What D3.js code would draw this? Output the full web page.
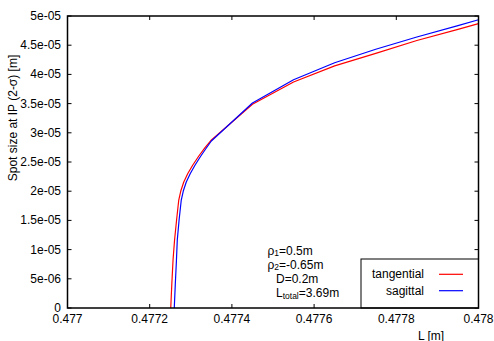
<!DOCTYPE html>
<html><head><meta charset="utf-8">
<script src="https://cdn.jsdelivr.net/npm/d3@7"></script>
<style>
html,body{margin:0;padding:0;background:#fff;}
text{font-family:"Liberation Sans",Arial,Helvetica,sans-serif;fill:#000;}
</style></head>
<body>
<svg id="chart" width="494" height="341"></svg>
<script>
// ---- data ----
const xTicks = [0.477, 0.4772, 0.4774, 0.4776, 0.4778, 0.478];
const xTickLabels = ["0.477", "0.4772", "0.4774", "0.4776", "0.4778", "0.478"];
const yTicks = [0, 5e-6, 1e-5, 1.5e-5, 2e-5, 2.5e-5, 3e-5, 3.5e-5, 4e-5, 4.5e-5, 5e-5];
const yTickLabels = ["0", "5e-06", "1e-05", "1.5e-05", "2e-05", "2.5e-05", "3e-05", "3.5e-05", "4e-05", "4.5e-05", "5e-05"];

const seriesNames = ["tangential", "sagittal"];
const seriesColors = ["#ff0000", "#0000ff"];

const tangentialL = [0.4772512, 0.4772537, 0.4772568, 0.4772605, 0.4772654, 0.4772707, 0.4772756, 0.4772829, 0.4772927, 0.4773049, 0.4773195, 0.4773341, 0.4773488, 0.47745, 0.47755, 0.47765, 0.47775, 0.47785, 0.47795, 0.478];
const tangentialV = [0, 3.94e-6, 8.22e-6, 1.164e-5, 1.507e-5, 1.849e-5, 2.003e-5, 2.158e-5, 2.303e-5, 2.449e-5, 2.603e-5, 2.740e-5, 2.868e-5, 3.488e-5, 3.870e-5, 4.145e-5, 4.360e-5, 4.580e-5, 4.770e-5, 4.870e-5];

const sagittalL = [0.4772598, 0.4772622, 0.4772651, 0.4772671, 0.4772715, 0.4772768, 0.4772817, 0.4772890, 0.4772988, 0.4773105, 0.4773244, 0.4773378, 0.4773500, 0.47745, 0.47755, 0.47765, 0.47775, 0.47785, 0.47795, 0.478];
const sagittalV = [0, 3.94e-6, 8.22e-6, 1.164e-5, 1.507e-5, 1.849e-5, 2.003e-5, 2.158e-5, 2.303e-5, 2.449e-5, 2.603e-5, 2.740e-5, 2.860e-5, 3.510e-5, 3.909e-5, 4.200e-5, 4.430e-5, 4.640e-5, 4.835e-5, 4.935e-5];

const xLabel = "L [m]";
const yLabel = "Spot size at IP (2-σ) [m]";

// ---- drawing ----
const svg = d3.select("#chart");
const L = 67.5, R = 478.5, T = 16, B = 308;
const x = d3.scaleLinear().domain([0.477, 0.478]).range([L, R]);
const y = d3.scaleLinear().domain([0, 5e-5]).range([B, T]);
const fs = 12;

// ticks (inward) on all four sides
const tk = 4;
const tg = svg.append("g").attr("stroke", "#000").attr("stroke-width", 1);
xTicks.forEach(v => {
  const px = x(v);
  tg.append("line").attr("x1", px).attr("x2", px).attr("y1", B).attr("y2", B - tk);
  tg.append("line").attr("x1", px).attr("x2", px).attr("y1", T).attr("y2", T + tk);
});
yTicks.forEach(v => {
  const py = y(v);
  tg.append("line").attr("x1", L).attr("x2", L + tk).attr("y1", py).attr("y2", py);
  tg.append("line").attr("x1", R).attr("x2", R - tk).attr("y1", py).attr("y2", py);
});

// tick labels
svg.append("g").selectAll("text").data(xTicks).join("text")
  .attr("x", d => x(d)).attr("y", 323)
  .attr("text-anchor", "middle").attr("font-size", fs)
  .text((d, i) => xTickLabels[i]);
svg.append("g").selectAll("text").data(yTicks).join("text")
  .attr("x", 61).attr("y", d => y(d) + 4)
  .attr("text-anchor", "end").attr("font-size", fs)
  .text((d, i) => yTickLabels[i]);

// axis titles
svg.append("text").attr("x", 431).attr("y", 339.5).attr("text-anchor", "middle")
  .attr("font-size", fs).text(xLabel);
svg.append("text").attr("transform", "translate(17,118) rotate(-90)")
  .attr("text-anchor", "middle").attr("font-size", fs).text(yLabel);

// curves
const line = d3.line().x(d => x(d[0])).y(d => y(d[1]));
const series = [
  d3.zip(tangentialL, tangentialV),
  d3.zip(sagittalL, sagittalV)
];
svg.append("clipPath").attr("id", "clip").append("rect")
  .attr("x", L).attr("y", T).attr("width", R - L).attr("height", B - T);
svg.append("g").attr("clip-path", "url(#clip)").selectAll("path").data(series).join("path")
  .attr("d", line).attr("fill", "none")
  .attr("stroke", (d, i) => seriesColors[i]).attr("stroke-width", 1.2)
  .attr("stroke-linejoin", "round");

// annotation
const ann = svg.append("g").attr("font-size", fs);
function sub(t, x0, y0, main, s, rest) {
  const e = t.append("text").attr("x", x0).attr("y", y0);
  e.append("tspan").text(main);
  e.append("tspan").attr("font-size", 8.5).attr("dy", 1.5).text(s);
  e.append("tspan").attr("dy", -1.5).text(rest);
}
sub(ann, 267.5, 254.5, "ρ", "1", "=0.5m");
sub(ann, 267.5, 268.5, "ρ", "2", "=-0.65m");
ann.append("text").attr("x", 276).attr("y", 283).text("D=0.2m");
sub(ann, 276, 297, "L", "total", "=3.69m");

// legend
const lg = svg.append("g");
lg.append("rect").attr("x", 361).attr("y", 259).attr("width", R - 361).attr("height", B - 259)
  .attr("fill", "#fff").attr("stroke", "#000").attr("stroke-width", 1);
seriesNames.forEach((n, i) => {
  const cy = 274.3 + i * 16.4;
  lg.append("text").attr("x", 424).attr("y", cy + 4).attr("text-anchor", "end")
    .attr("font-size", fs).text(n);
  lg.append("line").attr("x1", 439).attr("x2", 463).attr("y1", cy).attr("y2", cy)
    .attr("stroke", seriesColors[i]).attr("stroke-width", 1.2);
});

// frame
svg.append("rect").attr("x", L).attr("y", T).attr("width", R - L).attr("height", B - T)
  .attr("fill", "none").attr("stroke", "#000").attr("stroke-width", 1.5);
</script>
</body></html>
